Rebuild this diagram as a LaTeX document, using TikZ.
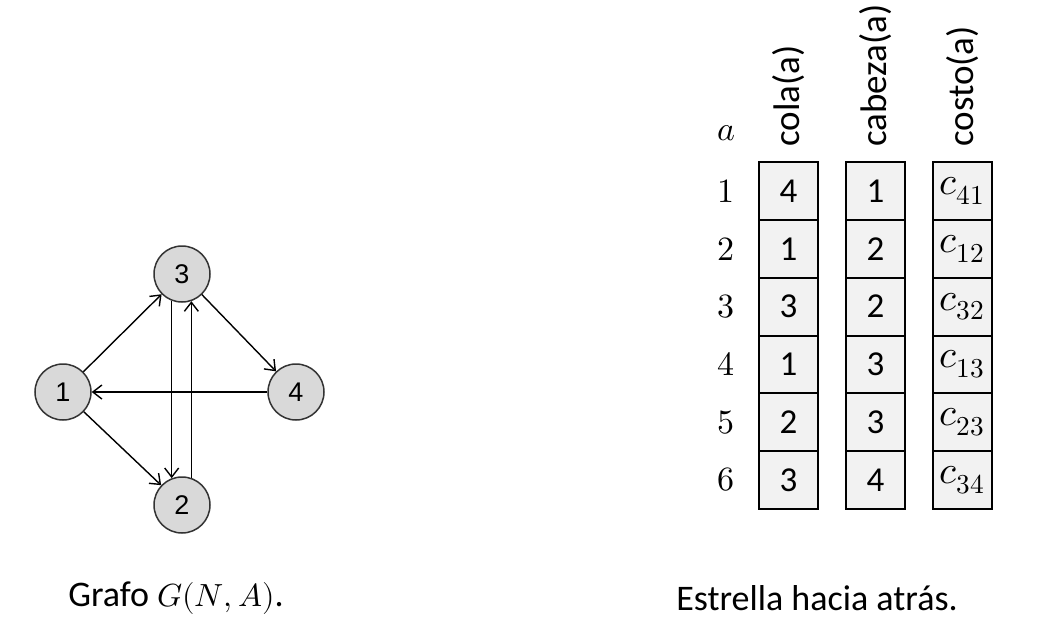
\documentclass[tikz,border=0pt]{standalone}
\usepackage{fontspec}
\usepackage{unicode-math}
\setmainfont{Carlito}
\setmathfont{Latin Modern Math}
\newfontfamily\graphfont{Liberation Sans}
\usepackage{tikz}
\usepackage{xcolor}
\usetikzlibrary{positioning,chains,arrows.meta}
\tikzset{
  vertex/.style={ % image of a graph vertex
    circle, draw=black!80, fill=gray!30, line width=0.75pt,
    minimum size=28pt, inner sep=0pt,
    font=\graphfont\fontsize{13.5}{15}\selectfont
  },
  arc/.style={ % image of a directed arc
    line width=0.7pt, -{Straight Barb[length=4.5pt,width=7pt]}
  },
  cell/.style={ % image of one entry of an array
    draw, rectangle, line width=1pt, fill=gray!10,
    minimum width=29.5pt, minimum height=28.9pt,
    inner sep=0pt, outer sep=0pt,
    font=\fontsize{17.5}{20}\selectfont, on chain
  },
  costcell/.style={ % entry holding a cost
    cell, font=\fontsize{19.5}{22}\selectfont
  },
  header/.style={ % rotated title of an array
    rotate=90, anchor=west, inner sep=0pt,
    font=\fontsize{18.5}{20}\selectfont
  },
  rowlabel/.style={
    inner sep=0pt, font=\fontsize{17}{18}\selectfont
  },
  caption/.style={
    font=\fontsize{18}{22}\selectfont
  }
}
\begin{document}
\begin{tikzpicture}[x=0.5pt, y=0.5pt]
  \useasboundingbox (0,0) rectangle (1055,639);

  % the graph
  \node[vertex] (v1) at (63,247) {1};
  \node[vertex] (v3) at (182,365) {3};
  \node[vertex] (v4) at (296,247) {4};
  \node[vertex] (v2) at (182,134) {2};
  \draw[arc] (v1) -- (v3);
  \draw[arc] (v3) -- (v4);
  \draw[arc] (v4) -- (v1);
  \draw[arc] (v1) -- (v2);
  \draw[arc] (v3.249) -- (v2.111);
  \draw[arc] (v2.71) -- (v3.289);

  % the arrays
  \begin{scope}[start chain=cola going below, node distance=0pt]
    \node[cell] (cola1) at (788.5,448) {4};
    \node[cell] (cola2) {1};
    \node[cell] (cola3) {3};
    \node[cell] (cola4) {1};
    \node[cell] (cola5) {2};
    \node[cell] (cola6) {3};
  \end{scope}
  \begin{scope}[start chain=cabeza going below, node distance=0pt]
    \node[cell] (cab1) at (875.5,448) {1};
    \node[cell] (cab2) {2};
    \node[cell] (cab3) {2};
    \node[cell] (cab4) {3};
    \node[cell] (cab5) {3};
    \node[cell] (cab6) {4};
  \end{scope}
  \begin{scope}[start chain=costo going below, node distance=0pt]
    \node[costcell] (cost1) at (962.5,448) {$c_{41}$};
    \node[costcell] (cost2) {$c_{12}$};
    \node[costcell] (cost3) {$c_{32}$};
    \node[costcell] (cost4) {$c_{13}$};
    \node[costcell] (cost5) {$c_{23}$};
    \node[costcell] (cost6) {$c_{34}$};
  \end{scope}

  \node (cola_head)[header] at ([yshift=7.5pt]cola1.north) {cola(a)};
  \node (cab_head)[header] at ([yshift=7.5pt]cab1.north) {cabeza(a)};
  \node (cost_head)[header] at ([yshift=7.5pt]cost1.north) {costo(a)};

  \node (r1_label)[rowlabel, left=12pt of cola1] {$1$};
  \node (r2_label)[rowlabel, left=12pt of cola2] {$2$};
  \node (r3_label)[rowlabel, left=12pt of cola3] {$3$};
  \node (r4_label)[rowlabel, left=12pt of cola4] {$4$};
  \node (r5_label)[rowlabel, left=12pt of cola5] {$5$};
  \node (r6_label)[rowlabel, left=12pt of cola6] {$6$};
  \node (a_label)[rowlabel, above=19pt of r1_label] {$a$};

  % captions
  \node (graph_caption)[caption] at (176,41) {Grafo {\fontsize{16}{20}\selectfont$G(N,A)$}.};
  \node (star_caption)[caption] at (817,41) {Estrella hacia atrás.};
\end{tikzpicture}
\end{document}
